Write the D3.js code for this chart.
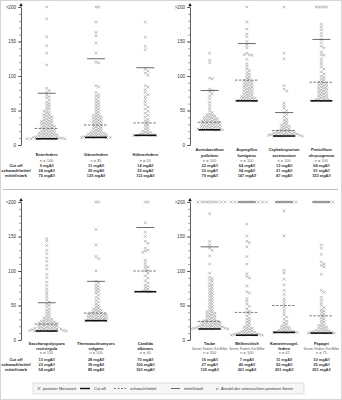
<!DOCTYPE html>
<html>
<head>
<meta charset="utf-8">
<script src="https://cdn.jsdelivr.net/npm/d3@7"></script>
<style>
  body { margin: 0; background: #fff; }
  svg { display: block; font-family: "Liberation Sans", Arial, sans-serif; }
</style>
</head>
<body>
<div id="chart"></div>
<script>
const WIDTH = 342;
const HEIGHT = 400;

const TICK_VALUES = [0, 50, 100, 150, 200];
const TICK_LABELS = ["0", "50", "100", "150", ">200"];
const ROW_LABELS = ["Cut off", "schwach/mittel", "mittel/stark"];

// --- Federn (top left)
const federNames = [["Enterfedern"], ["Gänsefedern"], ["Hühnerfedern"]];
const federN = [100, 85, 50];
const federCutoff = [9, 11, 14];
const federWeak = [24, 29, 32];
const federStrong = [75, 125, 112];
const enterfedern = [200, 183, 157, 144, 133, 116, 82, 79, 76, 72, 70, 68, 65, 62, 60, 58, 56, 54, 52, 50, 49, 47, 46, 44, 43, 42, 41, 40, 39, 38, 37, 36, 35, 34, 34, 33, 32, 31, 30, 30, 29, 28, 27, 27, 26, 25, 25, 24, 23, 22, 22, 21, 20, 20, 19, 18, 18, 17, 17, 16, 16, 15, 15, 14, 14, 13, 13, 12, 12, 12, 11, 11, 11, 10, 10, 10, 10, 9, 9, 9, 9, 9];
const gaensefedern = [200, 200, 178, 163, 158, 148, 133, 120, 119, 86, 84, 76, 73, 71, 69, 66, 64, 62, 60, 58, 56, 54, 52, 50, 48, 46, 44, 43, 42, 41, 40, 39, 38, 37, 36, 35, 34, 33, 32, 31, 30, 29, 28, 27, 26, 25, 24, 23, 22, 21, 20, 19, 18, 18, 17, 17, 16, 16, 15, 15, 14, 14, 13, 13, 12, 12, 12, 11, 11, 11, 11];
const huehnerfedern = [178, 156, 143, 138, 110, 107, 104, 101, 86, 84, 80, 76, 73, 70, 66, 62, 58, 55, 52, 49, 46, 43, 40, 37, 35, 33, 31, 29, 27, 25, 23, 21, 20, 19, 18, 17, 16, 16, 15, 15, 14, 14, 14, 14];

// --- Schimmelpilze (top right)
const pilzNames = [["Aureobasidium", "pullulans"], ["Aspergillus", "fumigatus"], ["Cephalosporium", "acremonium"], ["Penicillium", "chrysogenum"]];
const pilzN = [100, 100, 100, 100];
const pilzCutoff = [22, 64, 13, 64];
const pilzWeak = [33, 94, 21, 91];
const pilzStrong = [79, 147, 47, 153];
const aureobasidium = [133, 123, 119, 97, 96, 81, 79, 77, 74, 71, 67, 62, 58, 54, 50, 47, 45, 44, 43, 42, 41, 40, 40, 39, 38, 38, 37, 36, 36, 35, 35, 34, 34, 33, 33, 32, 32, 31, 31, 30, 30, 29, 29, 28, 28, 27, 27, 26, 26, 25, 25, 24, 24, 23, 23, 23, 22, 22, 22];
const aspergillus = [200, 178, 168, 161, 157, 150, 145, 141, 133, 131, 131, 130, 124, 118, 114, 110, 108, 105, 103, 101, 99, 97, 95, 94, 93, 92, 91, 90, 89, 88, 87, 86, 85, 84, 83, 82, 81, 80, 79, 78, 77, 76, 75, 74, 73, 72, 71, 70, 70, 69, 68, 68, 67, 66, 66, 65, 65, 64, 64, 64];
const cephalosporium = [200, 133, 125, 86, 81, 78, 61, 57, 53, 50, 47, 44, 41, 38, 36, 34, 32, 30, 29, 28, 27, 26, 25, 24, 23, 22, 21, 21, 20, 20, 19, 19, 18, 18, 17, 17, 17, 16, 16, 16, 15, 15, 15, 14, 14, 14, 14, 13, 13, 13, 13];
const penicillium = [200, 200, 200, 200, 200, 175, 171, 167, 162, 158, 153, 148, 143, 141, 135, 131, 130, 125, 121, 117, 113, 110, 106, 103, 100, 98, 96, 94, 92, 91, 90, 89, 88, 87, 86, 85, 84, 83, 82, 81, 80, 79, 78, 77, 76, 75, 74, 73, 72, 71, 70, 69, 68, 67, 66, 66, 65, 65, 64, 64];

// --- Bakterien / Hefe (bottom left)
const mikroNames = [["Saccharopolyspora", "rectivirgula"], ["Thermoactinomyces", "vulgaris"], ["Candida", "albicans"]];
const mikroN = [150, 100, 40];
const mikroCutoff = [13, 28, 70];
const mikroWeak = [23, 39, 100];
const mikroStrong = [54, 85, 163];
const saccharopolyspora = [147, 143, 137, 130, 125, 119, 114, 108, 103, 95, 90, 84, 79, 74, 70, 66, 62, 58, 55, 52, 50, 48, 45, 43, 41, 39, 37, 35, 33, 32, 31, 30, 29, 28, 27, 27, 26, 26, 25, 25, 24, 24, 23, 23, 22, 22, 21, 21, 20, 20, 19, 19, 18, 18, 17, 17, 17, 16, 16, 16, 15, 15, 15, 14, 14, 14, 14, 13, 13, 13, 13];
const thermoactinomyces = [200, 200, 160, 138, 121, 118, 100, 85, 83, 80, 78, 76, 74, 72, 70, 68, 65, 62, 60, 57, 55, 52, 50, 48, 46, 45, 44, 43, 42, 41, 40, 39, 39, 38, 38, 37, 37, 36, 36, 35, 35, 34, 34, 33, 33, 32, 32, 31, 31, 30, 30, 29, 29, 28, 28, 28];
const candida = [200, 200, 170, 156, 150, 143, 140, 133, 130, 129, 127, 116, 112, 108, 106, 104, 101, 100, 97, 93, 90, 86, 83, 80, 78, 76, 74, 72, 71, 70, 70];

// --- Vögel (bottom right)
const vogelNames = [["Taube", "Serum, Federn, Kot Milbe"], ["Wellensittich", "Serum, Federn, Kot Milbe"], ["Kanarienvogel-", "federn"], ["Papagei", "Serum, Federn, Kot Milbe"]];
const vogelSub = [true, true, false, true];
const vogelN = [200, 100, 42, 75];
const vogelCutoff = [16, 7, 11, 10];
const vogelWeak = [27, 40, 50, 35];
const vogelStrong = [135, 201, 201, 201];
const taube = [200, 200, 200, 200, 200, 200, 200, 200, 200, 200, 183, 143, 138, 133, 130, 122, 110, 97, 91, 89, 87, 85, 82, 80, 78, 76, 74, 72, 70, 68, 66, 64, 62, 60, 58, 56, 54, 52, 50, 48, 46, 44, 42, 41, 40, 39, 38, 37, 36, 35, 34, 33, 32, 31, 30, 29, 28, 28, 27, 27, 26, 26, 25, 25, 24, 24, 23, 23, 22, 22, 21, 21, 20, 20, 20, 19, 19, 19, 18, 18, 18, 17, 17, 17, 17, 16, 16, 16, 16, 16];
const wellensittich = [200, 200, 200, 200, 200, 200, 200, 200, 200, 200, 200, 200, 168, 151, 143, 141, 135, 121, 110, 96, 92, 90, 78, 70, 68, 60, 56, 52, 49, 45, 42, 40, 38, 35, 32, 30, 28, 26, 24, 22, 20, 19, 18, 17, 16, 15, 14, 13, 12, 12, 11, 11, 10, 10, 9, 9, 9, 8, 8, 8, 8, 7, 7, 7, 7];
const kanarienvogel = [200, 200, 200, 200, 200, 200, 200, 200, 187, 151, 101, 97, 88, 80, 72, 66, 60, 56, 52, 48, 44, 40, 36, 33, 30, 27, 25, 23, 21, 20, 19, 18, 17, 16, 15, 14, 14, 13, 13, 12, 12, 12, 11, 11, 11];
const papagei = [200, 200, 200, 200, 200, 200, 200, 200, 138, 133, 124, 113, 110, 108, 106, 95, 72, 69, 62, 58, 54, 50, 47, 44, 42, 40, 38, 36, 34, 32, 30, 28, 26, 24, 22, 21, 20, 19, 18, 17, 16, 15, 14, 14, 13, 13, 12, 12, 11, 11, 11, 10, 10, 10, 10];

const svg = d3.select("#chart")
  .append("svg")
  .attr("width", WIDTH)
  .attr("height", HEIGHT);

// frame + separator
svg.append("rect")
  .attr("x", 0.5).attr("y", 0.5)
  .attr("width", WIDTH - 1).attr("height", HEIGHT - 1)
  .attr("fill", "none").attr("stroke", "#d6d6d6");
svg.append("line")
  .attr("x1", 3).attr("x2", WIDTH - 4)
  .attr("y1", 189.5).attr("y2", 189.5)
  .attr("stroke", "#bdbdbd").attr("stroke-width", 1.2);

const xMark = d3.symbol(d3.symbolX, 6);

// simple beeswarm: push each point sideways until it no longer overlaps
function dodge(values, yScale, dist) {
  const pts = values.map(v => ({ v: v, y: yScale(v) })).sort((a, b) => a.y - b.y);
  const placed = [];
  pts.forEach(p => {
    let k = 0;
    while (true) {
      const off = k === 0 ? 0 : (k % 2 ? 1 : -1) * Math.ceil(k / 2) * dist * 0.5;
      const ok = placed.every(q => (q.dx - off) ** 2 + (q.y - p.y) ** 2 >= dist * dist);
      if (ok) { p.dx = off; break; }
      k++;
    }
    placed.push(p);
  });
  return placed;
}

function drawPanel(p) {
  const y = d3.scaleLinear().domain([0, 200]).range([p.y0, p.y200]);
  const x = d3.scalePoint()
    .domain(p.names.map((d, i) => i))
    .range(p.xRange)
    .padding(0.5);

  const g = svg.append("g");

  // minor ticks every 10
  g.append("g")
    .attr("transform", `translate(${p.axisX},0)`)
    .call(d3.axisLeft(y).tickValues(y.ticks(20)).tickSize(2).tickSizeOuter(0).tickFormat(""))
    .call(a => a.selectAll("line").attr("stroke", "#444").attr("stroke-width", 0.5))
    .call(a => a.select(".domain").remove());

  const axis = d3.axisLeft(y)
    .tickValues(TICK_VALUES)
    .tickFormat((d, i) => TICK_LABELS[i])
    .tickSize(3)
    .tickSizeOuter(0)
    .tickPadding(2);

  g.append("g")
    .attr("transform", `translate(${p.axisX},0)`)
    .call(axis)
    .call(a => a.select(".domain").attr("stroke", "#333").attr("stroke-width", 0.8))
    .call(a => a.selectAll("line").attr("stroke", "#333").attr("stroke-width", 0.7))
    .call(a => a.selectAll("text")
      .attr("font-family", "Liberation Sans, Arial, sans-serif")
      .attr("font-size", 4.6)
      .attr("fill", "#333"));

  // axis top extension + marker
  g.append("line")
    .attr("x1", p.axisX).attr("x2", p.axisX)
    .attr("y1", y(200)).attr("y2", y(200) - 2)
    .attr("stroke", "#333").attr("stroke-width", 0.8);
  g.append("path")
    .attr("d", d3.symbol(d3.symbolTriangle, 5)())
    .attr("transform", `translate(${p.axisX},${y(200) - 2})`)
    .attr("fill", "#111");

  // points
  p.points.forEach((vals, i) => {
    const placed = dodge(vals, y, 2.6);
    g.append("g").selectAll("path")
      .data(placed)
      .enter()
      .append("path")
      .attr("d", xMark)
      .attr("transform", d => `translate(${x(i) + d.dx},${d.y})`)
      .attr("fill", "none")
      .attr("stroke", "#8a8a8a")
      .attr("stroke-width", 0.55);
  });

  // threshold lines
  p.names.forEach((nm, i) => {
    g.append("line")
      .attr("x1", x(i) - 12).attr("x2", x(i) + 12)
      .attr("y1", y(p.weak[i])).attr("y2", y(p.weak[i]))
      .attr("stroke", "#555").attr("stroke-width", 0.8)
      .attr("stroke-dasharray", "2.5,1.5");
    g.append("line")
      .attr("x1", x(i) - 9).attr("x2", x(i) + 9)
      .attr("y1", y(Math.min(p.strong[i], 200))).attr("y2", y(Math.min(p.strong[i], 200)))
      .attr("stroke", "#444").attr("stroke-width", 0.8);
    g.append("line")
      .attr("x1", x(i) - 11).attr("x2", x(i) + 11)
      .attr("y1", y(p.cutoff[i])).attr("y2", y(p.cutoff[i]))
      .attr("stroke", "#111").attr("stroke-width", 1.6);
  });

  // labels under each column
  p.names.forEach((nm, i) => {
    const t = g.append("g")
      .attr("transform", `translate(${x(i)},0)`)
      .attr("text-anchor", "middle");
    nm.forEach((line, j) => {
      const small = j === 1 && p.sub && p.sub[i];
      t.append("text")
        .attr("y", p.nameY[j])
        .attr("dy", "0.35em")
        .attr("font-size", small ? 3.1 : 3.9)
        .attr("font-weight", small ? "normal" : "bold")
        .attr("fill", small ? "#555" : "#222")
        .text(line);
    });
    t.append("text")
      .attr("y", p.nY)
      .attr("dy", "0.35em")
      .attr("font-size", 3.9)
      .attr("fill", "#666")
      .text("n = " + p.n[i]);
    [p.cutoff[i], p.weak[i], p.strong[i]].forEach((v, j) => {
      t.append("text")
        .attr("y", p.rowY[j])
        .attr("dy", "0.35em")
        .attr("font-size", 3.9)
        .attr("font-weight", "bold")
        .attr("fill", "#333")
        .text(v + " mgA/l");
    });
  });

  if (p.rowHeaders) {
    ROW_LABELS.forEach((lab, j) => {
      g.append("text")
        .attr("x", 16)
        .attr("y", p.rowY[j])
        .attr("dy", "0.35em")
        .attr("text-anchor", "middle")
        .attr("font-size", 4.1)
        .attr("font-weight", "bold")
        .attr("fill", "#222")
        .text(lab);
    });
  }
}

drawPanel({
  names: federNames, n: federN, cutoff: federCutoff, weak: federWeak, strong: federStrong,
  points: [enterfedern, gaensefedern, huehnerfedern],
  axisX: 21, xRange: [22, 170], y0: 145, y200: 7,
  nameY: [155], nY: 161, rowY: [166, 171, 176], rowHeaders: true
});
drawPanel({
  names: pilzNames, n: pilzN, cutoff: pilzCutoff, weak: pilzWeak, strong: pilzStrong,
  points: [aureobasidium, aspergillus, cephalosporium, penicillium],
  axisX: 190, xRange: [191, 340], y0: 145, y200: 7,
  nameY: [150, 156], nY: 161, rowY: [166, 171, 176], rowHeaders: false
});
drawPanel({
  names: mikroNames, n: mikroN, cutoff: mikroCutoff, weak: mikroWeak, strong: mikroStrong,
  points: [saccharopolyspora, thermoactinomyces, candida],
  axisX: 21, xRange: [22, 170], y0: 340, y200: 202,
  nameY: [344, 348.5], nY: 353, rowY: [359.5, 364.5, 369.5], rowHeaders: true
});
drawPanel({
  names: vogelNames, sub: vogelSub, n: vogelN, cutoff: vogelCutoff, weak: vogelWeak, strong: vogelStrong,
  points: [taube, wellensittich, kanarienvogel, papagei],
  axisX: 190, xRange: [191, 340], y0: 340, y200: 202,
  nameY: [344, 348.5], nY: 353, rowY: [359.5, 364.5, 369.5], rowHeaders: false
});

// legend
const legend = svg.append("g");
legend.append("rect")
  .attr("x", 33).attr("y", 383)
  .attr("width", 271).attr("height", 11)
  .attr("fill", "#f6f6f6").attr("stroke", "#cfcfcf").attr("stroke-width", 0.6);
const LY = 388.5;
legend.append("path")
  .attr("d", xMark)
  .attr("transform", `translate(39,${LY})`)
  .attr("fill", "none").attr("stroke", "#555").attr("stroke-width", 0.6);
legend.append("line").attr("x1", 80).attr("x2", 90).attr("y1", LY).attr("y2", LY)
  .attr("stroke", "#111").attr("stroke-width", 1.4);
legend.append("line").attr("x1", 114).attr("x2", 126).attr("y1", LY).attr("y2", LY)
  .attr("stroke", "#555").attr("stroke-width", 0.8).attr("stroke-dasharray", "2,1.5");
legend.append("line").attr("x1", 171).attr("x2", 180).attr("y1", LY).attr("y2", LY)
  .attr("stroke", "#444").attr("stroke-width", 0.8);
legend.append("text").attr("x", 216).attr("y", LY).attr("dy", "0.35em")
  .attr("font-size", 4).attr("font-style", "italic").attr("fill", "#444").text("n");
const legendTexts = [
  { x: 43, t: "positiver Messwert" },
  { x: 94, t: "Cut off" },
  { x: 130, t: "schwach/mittel" },
  { x: 184, t: "mittel/stark" },
  { x: 221, t: "Anzahl der untersuchten positiven Seren" }
];
legend.selectAll("text.lt")
  .data(legendTexts)
  .enter()
  .append("text")
  .attr("class", "lt")
  .attr("x", d => d.x)
  .attr("y", LY)
  .attr("dy", "0.35em")
  .attr("font-size", 4)
  .attr("fill", "#333")
  .text(d => d.t);
</script>
</body>
</html>
